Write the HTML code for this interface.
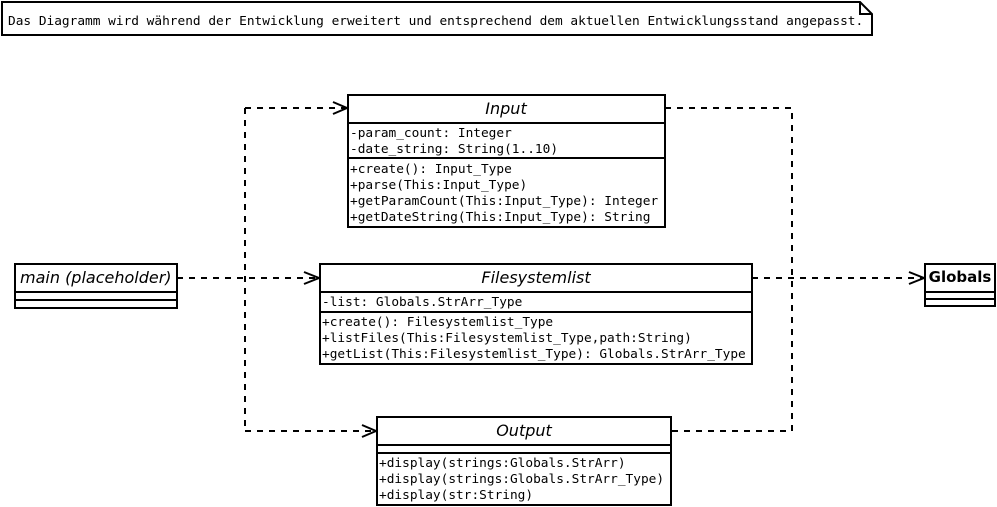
<!DOCTYPE html>
<html><head><meta charset="utf-8"><style>
html,body{margin:0;padding:0;background:#fff;width:997px;height:507px;overflow:hidden}
svg{display:block}
.m{font-family:"DejaVu Sans Mono","Liberation Mono",monospace;font-size:12.8px;fill:#000}
.t{font-family:"DejaVu Sans","Liberation Sans",sans-serif;font-size:16px;font-style:italic;fill:#000}
.b{font-family:"DejaVu Sans","Liberation Sans",sans-serif;font-size:15px;font-weight:bold;fill:#000}
.r{fill:#fff;stroke:#000;stroke-width:2}
.l{stroke:#000;stroke-width:2}
.d{fill:none;stroke:#000;stroke-width:2;stroke-dasharray:6 6}
.a{fill:none;stroke:#000;stroke-width:2}
</style></head><body>
<svg width="997" height="507" viewBox="0 0 997 507">
<!-- note -->
<path d="M2,2 H860 L872,14 V35 H2 Z" class="r"/>
<path d="M860,2 V14 H872" class="a"/>
<text x="8" y="25" class="m" font-size="12.5">Das Diagramm wird während der Entwicklung erweitert und entsprechend dem aktuellen Entwicklungsstand angepasst.</text>

<!-- connectors -->
<path d="M177,278 H318" class="d"/>
<path d="M245,108 V431" class="d"/>
<path d="M245,108 H346" class="d"/>
<path d="M245,431 H375" class="d"/>
<path d="M665,108 H792 V431 H671" class="d"/>
<path d="M752,278 H923" class="d"/>
<path d="M304,272 L319,278 L304,284" class="a"/>
<path d="M333,102 L347,108 L333,114" class="a"/>
<path d="M362,425 L376,431 L362,437" class="a"/>
<path d="M909,272 L924,278 L909,284" class="a"/>

<!-- main -->
<rect x="15" y="264" width="162" height="44" class="r"/>
<line x1="15" y1="292" x2="177" y2="292" class="l"/>
<line x1="15" y1="300" x2="177" y2="300" class="l"/>
<text x="20" y="283" class="t">main (placeholder)</text>

<!-- Input -->
<rect x="348" y="95" width="317" height="132" class="r"/>
<line x1="348" y1="123" x2="665" y2="123" class="l"/>
<line x1="348" y1="158" x2="665" y2="158" class="l"/>
<text x="506" y="114" class="t" text-anchor="middle">Input</text>
<text x="350" y="137" class="m">-param_count: Integer</text>
<text x="350" y="153" class="m">-date_string: String(1..10)</text>
<text x="350" y="173" class="m">+create(): Input_Type</text>
<text x="350" y="189" class="m">+parse(This:Input_Type)</text>
<text x="350" y="205" class="m">+getParamCount(This:Input_Type): Integer</text>
<text x="350" y="221" class="m">+getDateString(This:Input_Type): String</text>

<!-- Filesystemlist -->
<rect x="320" y="264" width="432" height="100" class="r"/>
<line x1="320" y1="292" x2="752" y2="292" class="l"/>
<line x1="320" y1="312" x2="752" y2="312" class="l"/>
<text x="536" y="283" class="t" text-anchor="middle">Filesystemlist</text>
<text x="322" y="306" class="m">-list: Globals.StrArr_Type</text>
<text x="322" y="326" class="m">+create(): Filesystemlist_Type</text>
<text x="322" y="342" class="m">+listFiles(This:Filesystemlist_Type,path:String)</text>
<text x="322" y="358" class="m">+getList(This:Filesystemlist_Type): Globals.StrArr_Type</text>

<!-- Output -->
<rect x="377" y="417" width="294" height="88" class="r"/>
<line x1="377" y1="445" x2="671" y2="445" class="l"/>
<line x1="377" y1="453" x2="671" y2="453" class="l"/>
<text x="524" y="436" class="t" text-anchor="middle">Output</text>
<text x="379" y="467" class="m">+display(strings:Globals.StrArr)</text>
<text x="379" y="483" class="m">+display(strings:Globals.StrArr_Type)</text>
<text x="379" y="499" class="m">+display(str:String)</text>

<!-- Globals -->
<rect x="925" y="264" width="70" height="42" class="r"/>
<line x1="925" y1="292" x2="995" y2="292" class="l"/>
<line x1="925" y1="299" x2="995" y2="299" class="l"/>
<text x="960" y="282" class="b" text-anchor="middle">Globals</text>
</svg>
</body></html>
